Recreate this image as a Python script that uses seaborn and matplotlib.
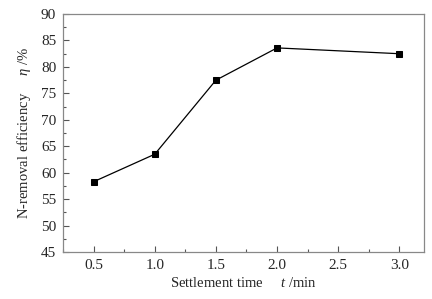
import matplotlib
matplotlib.use("Agg")
import matplotlib.pyplot as plt
from matplotlib.ticker import MultipleLocator
import seaborn as sns
import pandas as pd

# settlement time (min) vs N-removal efficiency (%)
settle_time = [0.5, 1.0, 1.5, 2.0, 3.0]
n_removal = [58.3, 63.5, 77.5, 83.6, 82.5]

sns.set_theme(style="ticks")
plt.rcParams['font.family'] = ['Liberation Serif', 'DejaVu Serif']
plt.rcParams['mathtext.fontset'] = 'custom'
plt.rcParams['mathtext.it'] = 'Liberation Serif:italic'
plt.rcParams['mathtext.rm'] = 'Liberation Serif'

data = pd.DataFrame({'t': settle_time, 'eta': n_removal})

fig = plt.figure(figsize=(4.32, 2.99), dpi=100)
ax = fig.add_axes([0.146, 0.157, 0.835, 0.796])

sns.lineplot(data=data, x='t', y='eta', ax=ax, color='black', linewidth=0.9,
             marker='s', markersize=4.3, markeredgecolor='black',
             markerfacecolor='black')

ax.set_xlim(0.25, 3.2)
ax.set_ylim(45, 90)
ax.xaxis.set_major_locator(MultipleLocator(0.5))
ax.xaxis.set_minor_locator(MultipleLocator(0.25))
ax.yaxis.set_major_locator(MultipleLocator(5))
ax.yaxis.set_minor_locator(MultipleLocator(2.5))
ax.xaxis.set_major_formatter(lambda v, p: f"{v:.1f}")

for s in ax.spines.values():
    s.set_visible(True)
    s.set_color('#888888')
    s.set_linewidth(0.9)
ax.tick_params(which='both', direction='in', color='#555555', labelsize=11,
               top=False, right=False, pad=5)
ax.tick_params(which='major', length=4, width=0.8)
ax.tick_params(which='minor', length=2.5, width=0.8)

ax.set_xlabel(r"Settlement time     $\mathit{t}$ /min", fontsize=10.5, labelpad=3)
ax.set_ylabel(r"N-removal efficiency     $\mathit{\eta}$ /%", fontsize=10.5, labelpad=6)

fig.savefig("out.png", dpi=100)
